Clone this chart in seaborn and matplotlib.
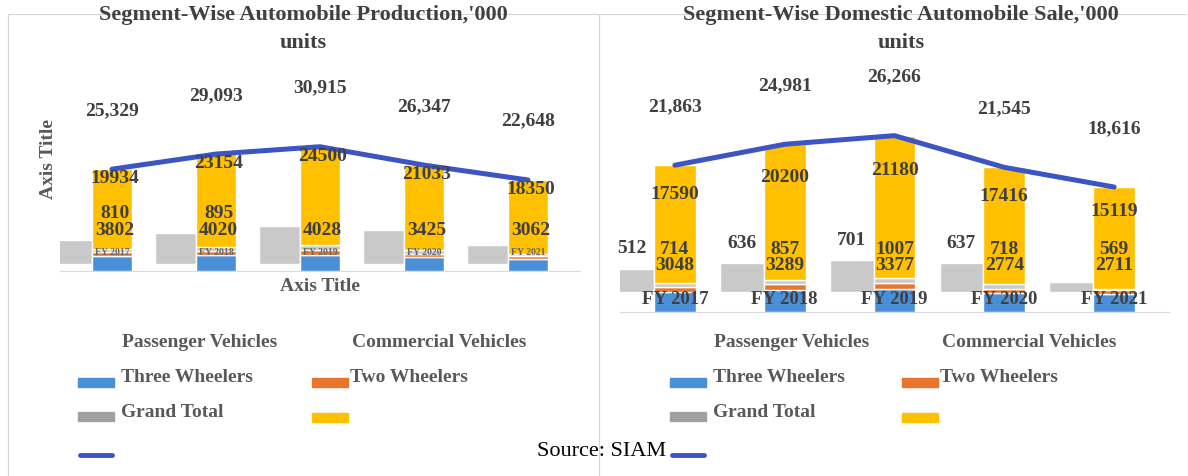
import numpy as np
import matplotlib.pyplot as plt
import seaborn as sns
from matplotlib.patches import Rectangle
from matplotlib.lines import Line2D

years = ["FY 2017", "FY 2018", "FY 2019", "FY 2020", "FY 2021"]

# production, '000 units
prod_pv = [3802, 4020, 4028, 3425, 3062]
prod_cv = [810, 895, 1112, 757, 625]
prod_3w = [783, 1022, 1269, 1133, 612]
prod_2w = [19934, 23154, 24500, 21033, 18350]
prod_total = [25329, 29093, 30915, 26347, 22648]

# domestic sales, '000 units
sale_pv = [3048, 3289, 3377, 2774, 2711]
sale_cv = [714, 857, 1007, 718, 569]
sale_3w = [512, 636, 701, 637, 216]
sale_2w = [17590, 20200, 21180, 17416, 15119]
sale_total = [21863, 24981, 26266, 21545, 18616]

BLUE, ORANGE, GREY, YELLOW, LINE = "#4a90d9", "#e8752b", "#c9c9c9", "#ffc000", "#3b55c4"
TXT = "#404040"
SERIF = ["Liberation Serif", "DejaVu Serif"]
LAB = 14  # data label size

sns.set_style("white")
plt.rcParams["font.family"] = SERIF

fig = plt.figure(figsize=(11.88, 4.77), dpi=100)
W, H = 1188, 477


def fx(px):
    return px / W


def fy(py):
    return 1 - py / H


def draw_panel(ax, pv, cv, w3, w2, total, ymax, tw_lim, tick_pad, tick_size, tick_color):
    x = np.arange(len(years))
    bottom = np.zeros(len(years))
    for vals, col in [(pv, BLUE), (cv, ORANGE), (w3, GREY), (w2, YELLOW)]:
        sns.barplot(x=years, y=vals, bottom=bottom, color=col, saturation=1,
                    width=0.38, ax=ax, zorder=2)
        bottom = bottom + np.array(vals)
    sns.lineplot(x=x, y=total, ax=ax, color=LINE, lw=3.6, zorder=4)
    ax.set_ylim(0, ymax)
    ax.set_xlim(-0.5, len(years) - 0.5)
    ax.set_yticks([])
    ax.set_xlabel("")
    ax.set_ylabel("")
    for s in ["top", "left", "right"]:
        ax.spines[s].set_visible(False)
    ax.spines["bottom"].set_color("#d9d9d9")
    ax.tick_params(axis="x", length=0, pad=tick_pad, labelsize=tick_size, labelcolor=tick_color)
    for lab in ax.get_xticklabels():
        lab.set_fontweight("bold")
    ax.xaxis.set_zorder(6)

    # three-wheeler series drawn beside the bars
    tw = ax.twinx()
    tw.bar(x - 0.39, w3, width=0.4, color=GREY, zorder=1)
    tw.set_ylim(*tw_lim)
    tw.set_yticks([])
    for s in tw.spines.values():
        s.set_visible(False)
    tw.set_zorder(ax.get_zorder() - 1)
    ax.set_zorder(tw.get_zorder() + 1)
    ax.patch.set_visible(False)

    for i in x:
        ax.annotate(f"{total[i]:,}", (i, total[i]), xytext=(0, 43), textcoords="offset points",
                    ha="center", va="center", fontsize=LAB, fontweight="bold", color=TXT)
    return tw


# ---------- left panel: production ----------
axL = fig.add_axes([fx(60), fy(272), fx(520), (272 - 71) / H])
draw_panel(axL, prod_pv, prod_cv, prod_3w, prod_2w, prod_total, 50000, (-230, 6400), -17, 7, "#666666")
for i in range(5):
    axL.annotate(str(prod_2w[i]), (i, prod_pv[i] + prod_cv[i] + prod_3w[i] + prod_2w[i]),
                 xytext=(2, -6), textcoords="offset points", ha="center", va="center",
                 fontsize=LAB, fontweight="bold", color=TXT, zorder=5)
    axL.annotate(str(prod_pv[i]), (i, 0), xytext=(2, 30), textcoords="offset points",
                 ha="center", va="center", fontsize=LAB, fontweight="bold", color=TXT, zorder=5)
for i in range(2):
    axL.annotate(str(prod_cv[i]), (i, 0), xytext=(2, 42), textcoords="offset points",
                 ha="center", va="center", fontsize=LAB, fontweight="bold", color=TXT, zorder=5)
axL.set_xlabel("Axis Title", fontsize=14, fontweight="bold", color="#595959", labelpad=4)
axL.set_ylabel("Axis Title", fontsize=14, fontweight="bold", color="#595959")
axL.yaxis.set_label_coords(-0.005, 0.56)

# ---------- right panel: domestic sale ----------
axR = fig.add_axes([fx(620), fy(313), fx(549), (313 - 78) / H])
twR = draw_panel(axR, sale_pv, sale_cv, sale_3w, sale_2w, sale_total, 35000, (-440, 4730), -15.5, 13.5, TXT)
for i in range(5):
    axR.annotate(str(sale_2w[i]), (i, sale_2w[i]), ha="center", va="center",
                 fontsize=LAB, fontweight="bold", color=TXT, zorder=5)
    axR.annotate(str(sale_pv[i]), (i, 0), xytext=(0, 34), textcoords="offset points",
                 ha="center", va="center", fontsize=LAB, fontweight="bold", color=TXT, zorder=5)
    axR.annotate(str(sale_cv[i]), (i, 0), xytext=(0, 46), textcoords="offset points",
                 ha="center", va="center", fontsize=LAB, fontweight="bold", color=TXT, zorder=5)
for i in range(4):
    twR.annotate(str(sale_3w[i]), (i - 0.39, sale_3w[i]), xytext=(0, 15), textcoords="offset points",
                 ha="center", va="center", fontsize=LAB, fontweight="bold", color=TXT)

# ---------- titles ----------
for cx, title in [(303, "Segment-Wise Automobile Production,'000"),
                  (901, "Segment-Wise Domestic Automobile Sale,'000")]:
    fig.text(fx(cx), fy(15), title, ha="center", va="center", fontsize=16,
             fontweight="bold", color=TXT)
    fig.text(fx(cx), fy(43), "units", ha="center", va="center", fontsize=16,
             fontweight="bold", color=TXT)

# panel frames
frame = dict(color="#d4d4d4", lw=0.8, transform=fig.transFigure, zorder=0)
fig.add_artist(Line2D([fx(8), fx(598)], [fy(15), fy(15)], **frame))
fig.add_artist(Line2D([fx(8), fx(8)], [fy(15), fy(477)], **frame))
fig.add_artist(Line2D([fx(600), fx(1186)], [fy(15), fy(15)], **frame))
fig.add_artist(Line2D([fx(599), fx(599)], [fy(15), fy(477)], **frame))


# ---------- legends (labels sit shifted by two slots, as in the source) ----------
def legend_block(x0, x1):
    lw, lh = 36, 9
    kw = dict(ha="left", va="center", fontsize=14, fontweight="bold", color="#595959")
    fig.text(fx(x0 + 44), fy(343), "Passenger Vehicles", **kw)
    fig.text(fx(x1 + 40), fy(343), "Commercial Vehicles", **kw)
    for px, py, col in [(x0, 383, BLUE), (x1, 383, ORANGE), (x0, 417, "#a0a0a0"), (x1, 418, YELLOW)]:
        fig.add_artist(Rectangle((fx(px), fy(py + lh / 2)), fx(lw), lh / H, color=col,
                                 transform=fig.transFigure))
    fig.add_artist(Line2D([fx(x0 + 2), fx(x0 + lw - 2)], [fy(456), fy(456)], color=LINE, lw=3.5,
                          transform=fig.transFigure))
    fig.text(fx(x0 + 43), fy(378), "Three Wheelers", **kw)
    fig.text(fx(x1 + 38), fy(378), "Two Wheelers", **kw)
    fig.text(fx(x0 + 43), fy(413), "Grand Total", **kw)


legend_block(78, 312)
legend_block(670, 902)

fig.text(fx(602), fy(452), "Source: SIAM", ha="center", va="center", fontsize=16,
         color="black", fontfamily=SERIF)

fig.savefig("out.png", dpi=100)
